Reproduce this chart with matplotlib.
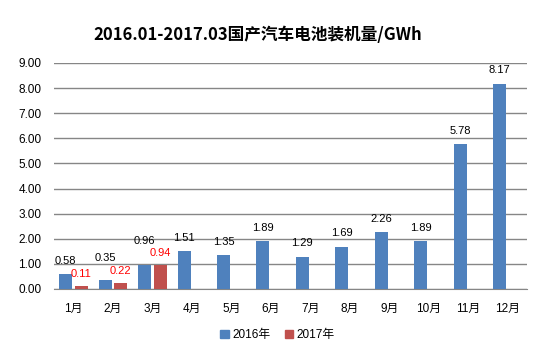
import matplotlib.pyplot as plt
import numpy as np
from matplotlib.patches import Patch

plt.rcParams["font.family"] = ["Liberation Sans", "Noto Sans CJK SC"]

months = ["1月", "2月", "3月", "4月", "5月", "6月",
          "7月", "8月", "9月", "10月", "11月", "12月"]
values_2016 = [0.58, 0.35, 0.96, 1.51, 1.35, 1.89, 1.29, 1.69, 2.26, 1.89, 5.78, 8.17]
values_2017 = [0.11, 0.22, 0.94]
y_ticks = [0, 1, 2, 3, 4, 5, 6, 7, 8, 9]

blue = "#4F81BD"
red = "#C0504D"
grid_color = "#868686"

fig = plt.figure(figsize=(5.55, 3.44), dpi=100)
ax = fig.add_axes([0.097, 0.16, 0.853, 0.657])

x = np.arange(len(months))
width = 0.33
offset = 0.2

bars16 = ax.bar(x - offset, values_2016, width, color=blue, zorder=3)
bars17 = ax.bar(x[:len(values_2017)] + offset, values_2017, width, color=red, zorder=3)

# lift the Feb/March 2016 labels so they clear the 2017 ones
lift_2016 = [0.0] * len(values_2016)
lift_2016[1] = 0.35
lift_2016[2] = 0.4

for bar, v, lift in zip(bars16, values_2016, lift_2016):
    ax.text(bar.get_x() + bar.get_width() / 2, v + 0.53 + lift, f"{v:.2f}",
            ha="center", va="center", fontsize=8, color="black", zorder=4)
for bar, v in zip(bars17, values_2017):
    ax.text(bar.get_x() + bar.get_width() / 2, v + 0.5, f"{v:.2f}",
            ha="center", va="center", fontsize=8, color="#FF0000", zorder=4)

ax.set_xlim(-0.5, len(months) - 0.5)
ax.set_ylim(0, 9)
ax.set_yticks(y_ticks)
ax.set_yticklabels([f"{t:.2f}" for t in y_ticks], fontsize=8.5)
ax.set_xticks(x)
ax.set_xticklabels(months, fontsize=8.5)
ax.tick_params(axis="both", length=0)
ax.tick_params(axis="x", pad=10)
ax.tick_params(axis="y", pad=9)

ax.yaxis.grid(True, color=grid_color, linewidth=1.0, zorder=0)
for side in ["top", "right", "left"]:
    ax.spines[side].set_visible(False)
ax.spines["bottom"].set_color(grid_color)

fig.text(0.465, 0.898, "2016.01-2017.03国产汽车电池装机量/GWh",
         family=["Noto Sans CJK SC", "DejaVu Sans"],
         ha="center", va="center", fontsize=12, fontweight="bold")

handles = [Patch(color=blue, label="2016年"), Patch(color=red, label="2017年")]
fig.legend(handles=handles, loc="center", bbox_to_anchor=(0.5, 0.025), ncol=2,
           frameon=False, fontsize=8.5, handlelength=0.7, handleheight=0.7,
           handletextpad=0.3, columnspacing=1.2)

fig.savefig("out.png", dpi=100)
